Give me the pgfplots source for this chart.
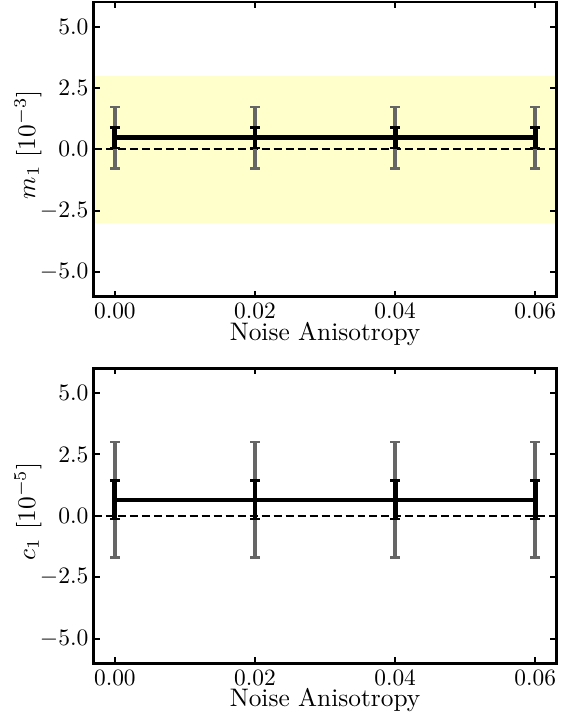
\documentclass[border=0pt]{standalone}
\usepackage{pgfplots}
\pgfplotsset{compat=1.18}
\definecolor{bandyellow}{RGB}{255,255,204}
\definecolor{errgrey}{RGB}{102,102,102}
\pgfplotsset{
  panel/.style={
    scale only axis, width=231.5pt, height=147.5pt,
    xmin=-0.003, xmax=0.063, ymin=-6, ymax=6,
    xtick={0,0.02,0.04,0.06}, ytick={-5,-2.5,0,2.5,5},
    scaled x ticks=false, scaled y ticks=false,
    tick align=inside, major tick length=3pt,
    tick style={line width=1pt, black},
    axis line style={line width=1.5pt},
    xticklabel style={/pgf/number format/fixed, /pgf/number format/fixed zerofill, /pgf/number format/precision=2, font=\normalsize, inner sep=2.85pt, scale=1.17},
    yticklabel style={/pgf/number format/fixed, /pgf/number format/fixed zerofill, /pgf/number format/precision=1, font=\normalsize, anchor=east, inner sep=0pt, xshift=-2.5pt, scale=1.18},
    label style={font=\normalsize, scale=1.27},
    xlabel={Noise Anisotropy},
    xlabel style={at={(axis description cs:0.5,-0.149)}, anchor=base},
    ylabel style={at={(axis description cs:-0.1426,0.515)}, anchor=center},
    axis on top,
    clip=false,
  },
  greyerr/.style={draw=none, mark=none, forget plot,
    error bars/.cd, y dir=both, y explicit,
    error bar style={line width=2pt, color=errgrey},
    error mark options={line width=1.2pt, color=errgrey, mark size=2.4pt, rotate=90}},
  blackerr/.style={draw=none, mark=none, forget plot,
    error bars/.cd, y dir=both, y explicit,
    error bar style={line width=2.4pt, color=black},
    error mark options={line width=1.2pt, color=black, mark size=2.5pt, rotate=90}},
}
\begin{document}
\begin{tikzpicture}
\begin{axis}[panel, at={(0,183.5pt)}, anchor=south west, name=top,
  ylabel={$m_1\ [10^{-3}]$}]
  \addplot[draw=none, fill=bandyellow, forget plot] coordinates {(-0.003,-3) (0.063,-3) (0.063,3) (-0.003,3)} -- cycle;
  \addplot[black, line width=1pt, dash pattern=on 4pt off 2pt] coordinates {(-0.003,0) (0.063,0)};
  \addplot[greyerr] coordinates {(0,0.47) +- (0,1.25) (0.02,0.47) +- (0,1.25) (0.04,0.47) +- (0,1.25) (0.06,0.47) +- (0,1.25)};
  \addplot[blackerr] coordinates {(0,0.47) +- (0,0.42) (0.02,0.47) +- (0,0.42) (0.04,0.47) +- (0,0.42) (0.06,0.47) +- (0,0.42)};
  \addplot[black, line width=2.3pt, mark=none] coordinates {(0,0.47) (0.02,0.47) (0.04,0.47) (0.06,0.47)};
\end{axis}
\begin{axis}[panel, at={(0,0)}, anchor=south west, name=bot,
  ylabel={$c_1\ [10^{-5}]$}]
  \addplot[black, line width=1pt, dash pattern=on 4pt off 2pt] coordinates {(-0.003,0) (0.063,0)};
  \addplot[greyerr] coordinates {(0,0.65) +- (0,2.35) (0.02,0.65) +- (0,2.35) (0.04,0.65) +- (0,2.35) (0.06,0.65) +- (0,2.35)};
  \addplot[blackerr] coordinates {(0,0.65) +- (0,0.79) (0.02,0.65) +- (0,0.79) (0.04,0.65) +- (0,0.79) (0.06,0.65) +- (0,0.79)};
  \addplot[black, line width=2.3pt, mark=none] coordinates {(0,0.65) (0.02,0.65) (0.04,0.65) (0.06,0.65)};
\end{axis}
\pgfresetboundingbox
\path (-47pt,-31pt) rectangle (233.5pt,332pt);
\end{tikzpicture}
\end{document}
